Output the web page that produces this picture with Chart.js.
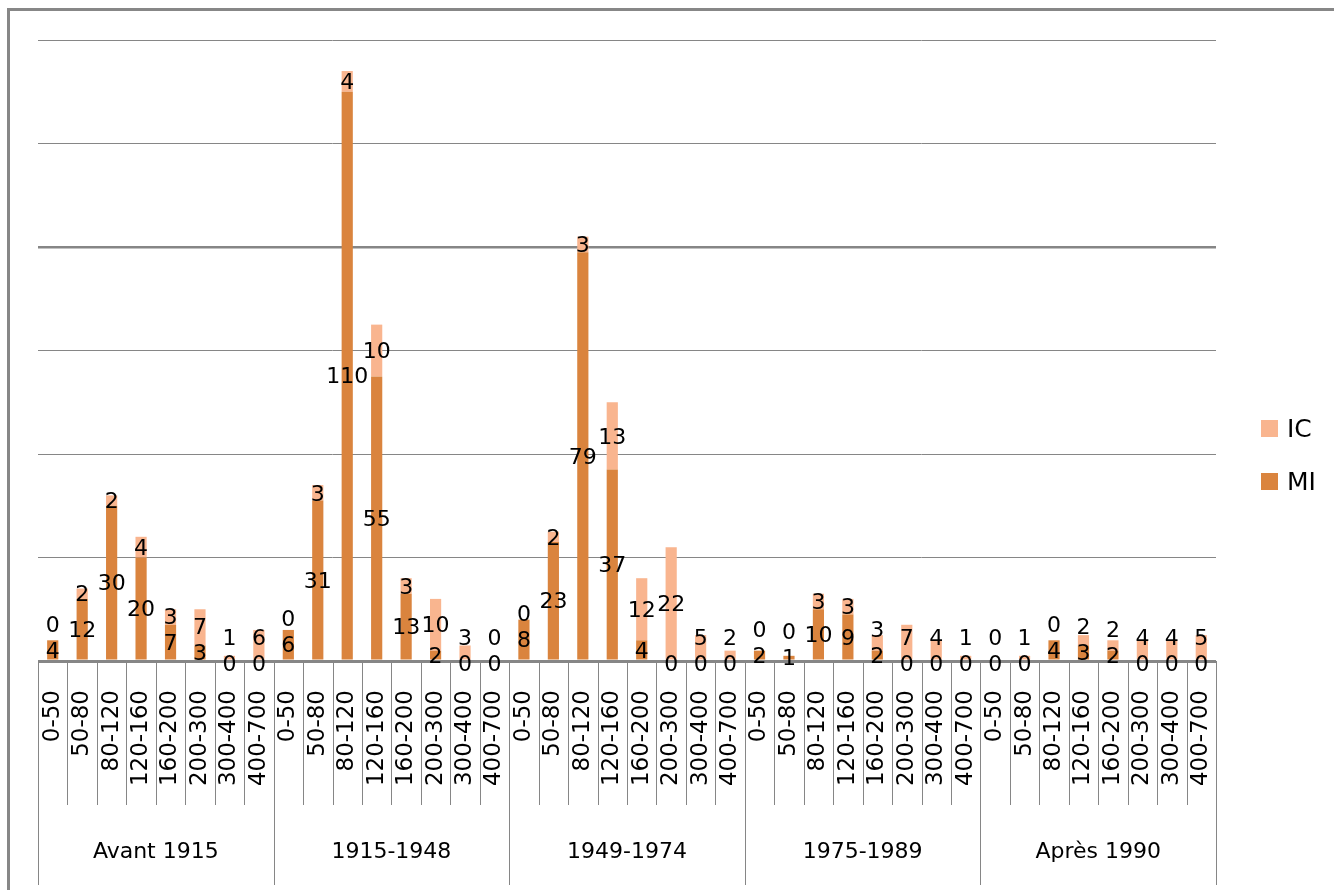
<!DOCTYPE html>
<html><head><meta charset="utf-8">
<script src="https://cdn.jsdelivr.net/npm/chart.js@4.4.1/dist/chart.umd.min.js"></script>
<style>html,body{margin:0;padding:0;background:#fff}#wrap{width:1334px;height:890px;position:relative}</style>
</head><body><div id="wrap"><canvas id="c" width="1334" height="890"></canvas></div>
<script>
const periods = ['Avant 1915', '1915-1948', '1949-1974', '1975-1989', 'Après 1990'];
const ranges = ['0-50', '50-80', '80-120', '120-160', '160-200', '200-300', '300-400', '400-700'];
const miValues = [4, 12, 30, 20, 7, 3, 0, 0,
                  6, 31, 110, 55, 13, 2, 0, 0,
                  8, 23, 79, 37, 4, 0, 0, 0,
                  2, 1, 10, 9, 2, 0, 0, 0,
                  0, 0, 4, 3, 2, 0, 0, 0];
const icValues = [0, 2, 2, 4, 3, 7, 1, 6,
                  0, 3, 4, 10, 3, 10, 3, 0,
                  0, 2, 3, 13, 12, 22, 5, 2,
                  0, 0, 3, 3, 3, 7, 4, 1,
                  0, 1, 0, 2, 2, 4, 4, 5];
const seriesNames = ['MI', 'IC'];
const seriesColors = ['#DA843E', '#F9B58F'];
const yMax = 120, yStep = 20;

const labels = periods.flatMap(() => ranges);
const FONT = "'DejaVu Sans', sans-serif";

const decor = {
  id: 'decor',
  afterDraw(chart) {
    const ctx = chart.ctx, ca = chart.chartArea, xs = chart.scales.x;
    ctx.save();
    // outer frame (top and left edges visible)
    ctx.fillStyle = '#878787';
    ctx.fillRect(7, 8, chart.width - 7, 3);
    ctx.fillRect(7, 8, 3, chart.height - 8);
    // category separators
    ctx.strokeStyle = '#868686';
    ctx.lineWidth = 1;
    const n = labels.length;
    for (let k = 0; k <= n; k++) {
      const x = Math.round(xs.getPixelForValue(k - 0.5)) + 0.5;
      const len = (k % ranges.length === 0) ? 224 : 144;
      ctx.beginPath();
      ctx.moveTo(x, ca.bottom);
      ctx.lineTo(x, ca.bottom + len);
      ctx.stroke();
    }
    // group labels
    ctx.fillStyle = '#000';
    ctx.font = '22px ' + FONT;
    ctx.textAlign = 'center';
    ctx.textBaseline = 'alphabetic';
    periods.forEach((p, g) => {
      const x0 = xs.getPixelForValue(g * ranges.length - 0.5);
      const x1 = xs.getPixelForValue((g + 1) * ranges.length - 0.5);
      ctx.fillText(p, (x0 + x1) / 2, ca.bottom + 197);
    });
    // data labels
    const miMeta = chart.getDatasetMeta(0), icMeta = chart.getDatasetMeta(1);
    const miData = chart.data.datasets[0].data, icData = chart.data.datasets[1].data;
    ctx.textBaseline = 'middle';
    ctx.font = '22px ' + FONT;
    for (let j = 0; j < n; j++) {
      const mi = miMeta.data[j], ic = icMeta.data[j];
      const miY = miData[j] === 0 ? mi.base + 4 : (mi.y + mi.base) / 2 + 2;
      const icY = Math.min((ic.y + ic.base) / 2 + 2, miY - 26);
      ctx.fillText(String(miData[j]), mi.x, miY);
      ctx.fillText(String(icData[j]), ic.x, icY);
    }
    // legend (IC above MI)
    ctx.font = '25px ' + FONT;
    ctx.textAlign = 'left';
    ctx.textBaseline = 'alphabetic';
    const ds = chart.data.datasets.slice().reverse();
    ds.forEach((d, i) => {
      const top = 420 + i * 53;
      ctx.fillStyle = d.backgroundColor;
      ctx.fillRect(ca.right + 45, top, 17, 17);
      ctx.fillStyle = '#000';
      ctx.fillText(d.label, ca.right + 71, top + 17);
    });
    ctx.restore();
  }
};

new Chart(document.getElementById('c'), {
  type: 'bar',
  data: {
    labels: labels,
    datasets: [
      { label: seriesNames[0], data: miValues, backgroundColor: seriesColors[0], borderWidth: 0 },
      { label: seriesNames[1], data: icValues, backgroundColor: seriesColors[1], borderWidth: 0 }
    ]
  },
  options: {
    responsive: false,
    devicePixelRatio: 1,
    animation: false,
    layout: { padding: { left: 38, top: 40, right: 118, bottom: 0 } },
    datasets: { bar: { categoryPercentage: 1, barPercentage: 0.38 } },
    plugins: { legend: { display: false }, tooltip: { enabled: false } },
    scales: {
      x: {
        stacked: true,
        grid: { display: false },
        border: { display: false },
        ticks: {
          autoSkip: false, minRotation: 90, maxRotation: 90, padding: 21,
          color: '#000', font: { family: FONT, size: 23 }
        },
        afterFit: s => { s.height = 229; }
      },
      y: {
        stacked: true,
        min: 0, max: yMax,
        border: { display: false },
        ticks: { display: false, stepSize: yStep },
        grid: {
          color: '#868686',
          drawTicks: false,
          lineWidth: c => c.tick.value === 0 ? 3 : (c.tick.value === 80 ? 2.5 : 1)
        },
        afterFit: s => { s.width = 0; }
      }
    }
  },
  plugins: [decor]
});
</script>
</body></html>
